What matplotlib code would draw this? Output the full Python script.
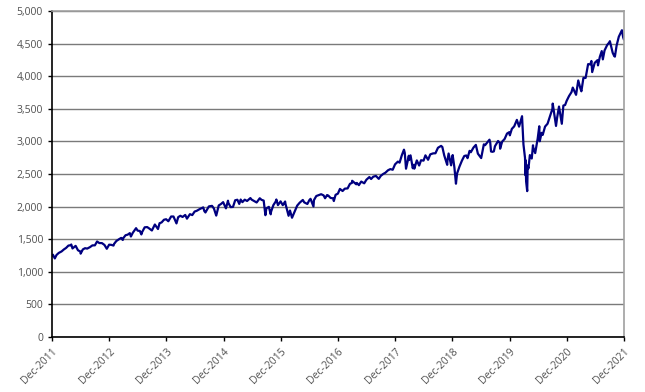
import matplotlib
matplotlib.use('Agg')
import matplotlib.pyplot as plt
import matplotlib.dates as mdates
from matplotlib.ticker import FuncFormatter
import pandas as pd

# index level (month-end plus notable highs / lows)
dates = [
    '2011-12-01', '2011-12-07', '2011-12-19', '2011-12-30',
    '2012-01-13', '2012-01-31', '2012-02-15', '2012-02-29', '2012-03-15', '2012-03-30',
    '2012-04-02', '2012-04-10', '2012-04-30', '2012-05-15', '2012-05-31', '2012-06-01',
    '2012-06-15', '2012-06-29', '2012-07-13', '2012-07-31', '2012-08-15', '2012-08-31',
    '2012-09-14', '2012-09-28', '2012-10-15', '2012-10-31', '2012-11-15', '2012-11-30',
    '2012-12-14', '2012-12-28', '2012-12-31',
    '2013-01-15', '2013-01-31', '2013-02-15', '2013-02-25', '2013-02-28', '2013-03-15',
    '2013-03-28', '2013-04-11', '2013-04-18', '2013-04-30', '2013-05-21', '2013-05-31',
    '2013-06-14', '2013-06-24', '2013-06-28', '2013-07-15', '2013-07-31', '2013-08-15',
    '2013-08-30', '2013-09-18', '2013-09-30', '2013-10-08', '2013-10-18', '2013-10-31',
    '2013-11-15', '2013-11-29', '2013-12-13', '2013-12-31',
    '2014-01-15', '2014-02-03', '2014-02-14', '2014-02-28', '2014-03-14', '2014-03-31',
    '2014-04-11', '2014-04-30', '2014-05-15', '2014-05-30', '2014-06-13', '2014-06-30',
    '2014-07-24', '2014-07-31', '2014-08-07', '2014-08-29', '2014-09-18', '2014-09-30',
    '2014-10-15', '2014-10-31', '2014-11-14', '2014-11-28', '2014-12-16', '2014-12-29',
    '2014-12-31',
    '2015-01-15', '2015-01-30', '2015-02-13', '2015-02-27', '2015-03-11', '2015-03-20',
    '2015-03-31', '2015-04-15', '2015-04-30', '2015-05-21', '2015-05-29', '2015-06-15',
    '2015-06-30', '2015-07-20', '2015-07-31', '2015-08-14', '2015-08-25', '2015-08-31',
    '2015-09-16', '2015-09-28', '2015-09-30', '2015-10-15', '2015-10-30', '2015-11-03',
    '2015-11-13', '2015-11-30', '2015-12-14', '2015-12-29', '2015-12-31',
    '2016-01-20', '2016-01-29', '2016-02-11', '2016-02-29', '2016-03-15', '2016-03-31',
    '2016-04-20', '2016-04-29', '2016-05-19', '2016-05-31', '2016-06-08', '2016-06-27',
    '2016-06-30', '2016-07-15', '2016-07-29', '2016-08-15', '2016-08-31', '2016-09-09',
    '2016-09-22', '2016-09-30', '2016-10-14', '2016-10-31', '2016-11-04', '2016-11-15',
    '2016-11-30', '2016-12-13', '2016-12-30',
    '2017-01-13', '2017-01-31', '2017-02-15', '2017-02-28', '2017-03-01', '2017-03-27',
    '2017-03-31', '2017-04-13', '2017-04-28', '2017-05-17', '2017-05-31', '2017-06-19',
    '2017-06-30', '2017-07-14', '2017-07-31', '2017-08-18', '2017-08-31', '2017-09-15',
    '2017-09-29', '2017-10-16', '2017-10-31', '2017-11-15', '2017-11-30', '2017-12-18',
    '2017-12-29',
    '2018-01-12', '2018-01-26', '2018-01-31', '2018-02-08', '2018-02-26', '2018-02-28',
    '2018-03-09', '2018-03-23', '2018-03-30', '2018-04-02', '2018-04-18', '2018-04-30',
    '2018-05-03', '2018-05-15', '2018-05-31', '2018-06-12', '2018-06-29', '2018-07-13',
    '2018-07-31', '2018-08-15', '2018-08-31', '2018-09-20', '2018-09-28', '2018-10-10',
    '2018-10-29', '2018-10-31', '2018-11-07', '2018-11-23', '2018-11-30', '2018-12-03',
    '2018-12-14', '2018-12-24', '2018-12-31',
    '2019-01-15', '2019-01-31', '2019-02-15', '2019-02-28', '2019-03-08', '2019-03-21',
    '2019-03-29', '2019-04-15', '2019-04-30', '2019-05-13', '2019-05-31', '2019-06-03',
    '2019-06-20', '2019-06-28', '2019-07-26', '2019-07-31', '2019-08-05', '2019-08-14',
    '2019-08-23', '2019-08-30', '2019-09-19', '2019-09-30', '2019-10-02', '2019-10-15',
    '2019-10-31', '2019-11-15', '2019-11-29', '2019-12-03', '2019-12-16', '2019-12-31',
    '2020-01-17', '2020-01-31', '2020-02-19', '2020-02-28', '2020-03-09', '2020-03-12',
    '2020-03-13', '2020-03-16', '2020-03-23', '2020-03-26', '2020-03-31', '2020-04-09',
    '2020-04-21', '2020-04-29', '2020-04-30', '2020-05-13', '2020-05-29', '2020-06-08',
    '2020-06-11', '2020-06-23', '2020-06-30', '2020-07-15', '2020-07-31', '2020-08-14',
    '2020-08-31', '2020-09-02', '2020-09-23', '2020-09-30', '2020-10-12', '2020-10-30',
    '2020-11-09', '2020-11-20', '2020-11-30', '2020-12-15', '2020-12-31',
    '2021-01-08', '2021-01-29', '2021-02-12', '2021-02-26', '2021-03-04', '2021-03-17',
    '2021-03-31', '2021-04-16', '2021-04-30', '2021-05-07', '2021-05-12', '2021-05-28',
    '2021-06-15', '2021-06-18', '2021-06-30', '2021-07-12', '2021-07-19', '2021-07-30',
    '2021-08-16', '2021-08-31', '2021-09-02', '2021-09-20', '2021-09-30', '2021-10-04',
    '2021-10-15', '2021-10-29', '2021-11-18', '2021-11-26', '2021-11-30',
]
values = [
    1244, 1262, 1205, 1258,
    1289, 1312, 1343, 1366, 1402, 1408,
    1419, 1358, 1398, 1330, 1310, 1278,
    1343, 1362, 1356, 1379, 1405, 1406,
    1465, 1441, 1440, 1412, 1353, 1416,
    1413, 1402, 1426,
    1472, 1498, 1520, 1488, 1515, 1561,
    1569, 1593, 1541, 1598, 1669, 1631,
    1626, 1573, 1606, 1682, 1686, 1661,
    1633, 1725, 1682, 1656, 1745, 1757,
    1798, 1806, 1775, 1848,
    1848, 1742, 1838, 1859, 1841, 1872,
    1815, 1884, 1870, 1924, 1936, 1960,
    1988, 1931, 1910, 2003, 2011, 1972,
    1862, 2018, 2039, 2068, 1973, 2090,
    2059,
    1992, 1995, 2097, 2105, 2041, 2108,
    2068, 2106, 2086, 2131, 2107, 2084,
    2063, 2128, 2104, 2092, 1868, 1972,
    1996, 1882, 1920, 2023, 2079, 2109,
    2023, 2080, 2022, 2078, 2044,
    1859, 1940, 1829, 1932, 2015, 2060,
    2102, 2065, 2040, 2097, 2119, 2001,
    2099, 2162, 2174, 2190, 2171, 2128,
    2177, 2168, 2133, 2126, 2085, 2180,
    2199, 2271, 2239,
    2275, 2279, 2349, 2364, 2396, 2342,
    2363, 2329, 2384, 2357, 2412, 2453,
    2423, 2459, 2470, 2425, 2472, 2500,
    2519, 2557, 2575, 2565, 2648, 2690,
    2674,
    2786, 2873, 2824, 2581, 2780, 2714,
    2786, 2588, 2641, 2582, 2708, 2648,
    2630, 2711, 2705, 2786, 2718, 2801,
    2816, 2818, 2902, 2931, 2914, 2786,
    2641, 2712, 2814, 2633, 2760, 2790,
    2600, 2351, 2507,
    2611, 2704, 2776, 2784, 2743, 2855,
    2834, 2906, 2946, 2812, 2752, 2744,
    2954, 2942, 3026, 2980, 2845, 2840,
    2847, 2926, 3006, 2977, 2888, 2996,
    3038, 3120, 3141, 3093, 3192, 3231,
    3330, 3226, 3386, 2954, 2747, 2481,
    2711, 2386, 2237, 2630, 2585, 2790,
    2737, 2940, 2912, 2820, 3044, 3232,
    3002, 3131, 3100, 3227, 3271, 3373,
    3500, 3580, 3237, 3363, 3534, 3270,
    3550, 3558, 3622, 3695, 3756,
    3825, 3714, 3934, 3811, 3768, 3974,
    3973, 4185, 4181, 4233, 4063, 4204,
    4246, 4166, 4298, 4385, 4258, 4395,
    4479, 4523, 4537, 4358, 4308, 4300,
    4471, 4605, 4705, 4595, 4567,
]
tick_years = list(range(2011, 2022))

x = pd.to_datetime(dates)
text_color = '#505050'

fig = plt.figure(figsize=(6.45, 3.92), dpi=100)
ax = fig.add_axes([0.0806, 0.1403, 0.8868, 0.8317])

ax.plot(x, values, color='#000080', linewidth=1.6)

ax.set_ylim(0, 5000)
ax.set_yticks(range(0, 5001, 500))
ax.yaxis.set_major_formatter(FuncFormatter(lambda v, p: f'{int(v):,}'))
ax.grid(axis='y', color='#7a7a7a', linewidth=1.0)
ax.set_axisbelow(True)

ticks = [pd.Timestamp(f'{y}-12-01') for y in tick_years]
ax.set_xlim(ticks[0], ticks[-1])
ax.set_xticks(ticks)
ax.xaxis.set_major_formatter(mdates.DateFormatter('%b-%Y'))
for lbl in ax.get_xticklabels():
    lbl.set_rotation(45)
    lbl.set_ha('right')
    lbl.set_rotation_mode('anchor')

ax.tick_params(axis='both', labelsize=7.5, colors='black', labelcolor=text_color,
               length=3, width=1, direction='out')
for side in ['left', 'bottom']:
    ax.spines[side].set_color('black')
    ax.spines[side].set_linewidth(1.2)
for side in ['top', 'right']:
    ax.spines[side].set_color('#a0a0a0')
    ax.spines[side].set_linewidth(1.2)

for lbl in ax.get_xticklabels() + ax.get_yticklabels():
    lbl.set_fontfamily('Open Sans')

fig.savefig('out.png', dpi=100)
print('Done plotting')
